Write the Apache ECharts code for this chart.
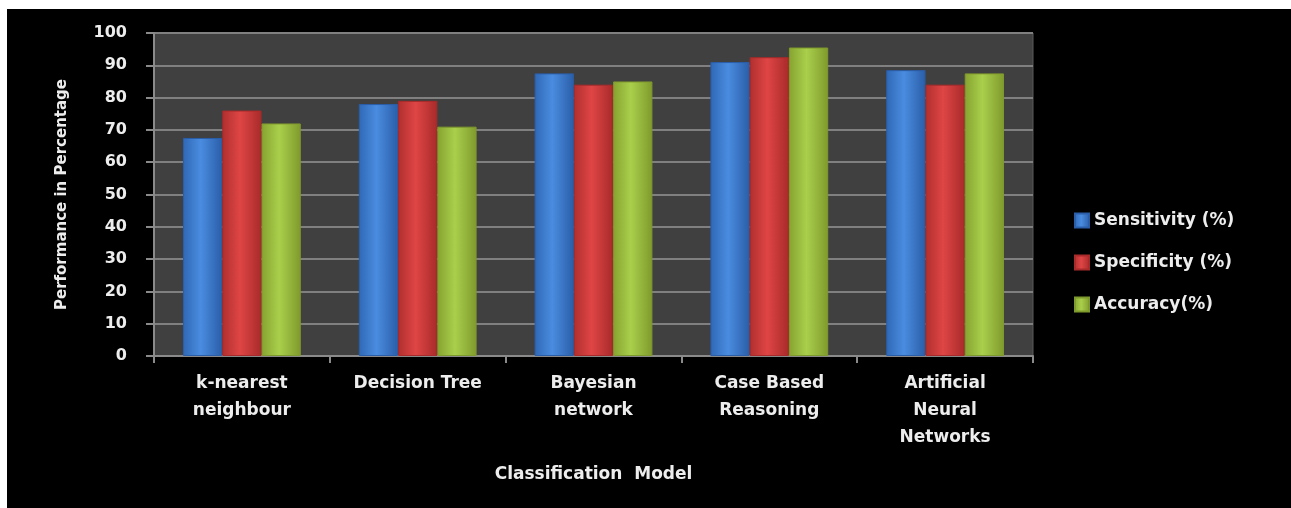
<!DOCTYPE html>
<html lang="en">
<head>
    <meta charset="UTF-8">
    <title>Classification Model</title>
    <script src="https://cdn.jsdelivr.net/npm/echarts@6/dist/echarts.min.js"></script>
</head>
<style>
html,body{margin:0;padding:0;background-color:#ffffff;width:1291px;height:508px;overflow:hidden}
#chartBox{position:absolute;left:7px;top:9px;width:1284px;height:499px;background-color:#000000}
</style>
<body>
    <div id="chartBox"></div>
</body>
<script>
// 数据
const categories = ['k-nearest\nneighbour', 'Decision Tree', 'Bayesian\nnetwork', 'Case Based\nReasoning', 'Artificial\nNeural\nNetworks'];
const sensitivity = [67.5, 78, 87.5, 91, 88.5];
const specificity = [76, 79, 84, 92.5, 84];
const accuracy = [72, 71, 85, 95.5, 87.5];
const seriesNames = ['Sensitivity (%)', 'Specificity (%)', 'Accuracy(%)'];

const FONT = '"DejaVu Sans", sans-serif';

// 横向渐变, 模拟立体柱
function barGradient(edge, mid, edge2){
    return new echarts.graphic.LinearGradient(0, 0, 1, 0, [
        {offset: 0, color: edge},
        {offset: 0.45, color: mid},
        {offset: 1, color: edge2}
    ]);
}

const colorSets = [
    ['#2f68b5', '#4a8ce0', '#2a5ea8'],
    ['#b02f2f', '#df4545', '#a82a2a'],
    ['#86a330', '#a9cf4c', '#7f9a2c']
];

function makeSeries(name, data, idx){
    let c = colorSets[idx];
    return {
        type: 'bar',
        name: name,
        data: data,
        barGap: 0,
        barCategoryGap: '33%',
        itemStyle: {
            color: barGradient(c[0], c[1], c[2]),
            borderColor: c[2],
            borderWidth: 1
        }
    };
}

let chartObj = echarts.init(document.getElementById('chartBox'));
let option = {
    backgroundColor: '#000000',
    animation: false,
    textStyle: {fontFamily: FONT},
    grid: {
        left: 147,
        top: 24,
        right: 258,
        bottom: 152,
        show: true,
        backgroundColor: '#404040',
        borderColor: '#5a5a5a',
        borderWidth: 1
    },
    xAxis: {
        type: 'category',
        data: categories,
        name: 'Classification  Model',
        nameLocation: 'middle',
        nameGap: 110,
        nameTextStyle: {color: '#ededed', fontWeight: 'bold', fontSize: 17, fontFamily: FONT},
        axisLine: {lineStyle: {color: '#8a8a8a', width: 2}},
        axisTick: {show: true, length: 7, lineStyle: {color: '#8a8a8a', width: 2}},
        axisLabel: {
            color: '#ededed',
            fontWeight: 'bold',
            fontSize: 17,
            lineHeight: 27,
            margin: 14,
            interval: 0,
            fontFamily: FONT
        }
    },
    yAxis: {
        type: 'value',
        min: 0,
        max: 100,
        interval: 10,
        name: 'Performance in Percentage',
        nameLocation: 'middle',
        nameGap: 84,
        nameRotate: 90,
        nameTextStyle: {color: '#ededed', fontWeight: 'bold', fontSize: 15, fontFamily: FONT},
        axisLine: {show: true, lineStyle: {color: '#8a8a8a', width: 2}},
        axisTick: {show: true, length: 8, lineStyle: {color: '#8a8a8a', width: 2}},
        axisLabel: {
            color: '#ededed',
            fontWeight: 'bold',
            fontSize: 16,
            margin: 27,
            fontFamily: FONT
        },
        splitLine: {lineStyle: {color: '#808080', width: 2}}
    },
    legend: {
        orient: 'vertical',
        left: 1062,
        top: 198,
        itemWidth: 14,
        itemHeight: 14,
        itemGap: 25,
        icon: 'rect',
        textStyle: {color: '#ededed', fontWeight: 'bold', fontSize: 17, fontFamily: FONT},
        data: seriesNames
    },
    series: [
        makeSeries(seriesNames[0], sensitivity, 0),
        makeSeries(seriesNames[1], specificity, 1),
        makeSeries(seriesNames[2], accuracy, 2)
    ]
};
chartObj.setOption(option);
</script>
</html>
